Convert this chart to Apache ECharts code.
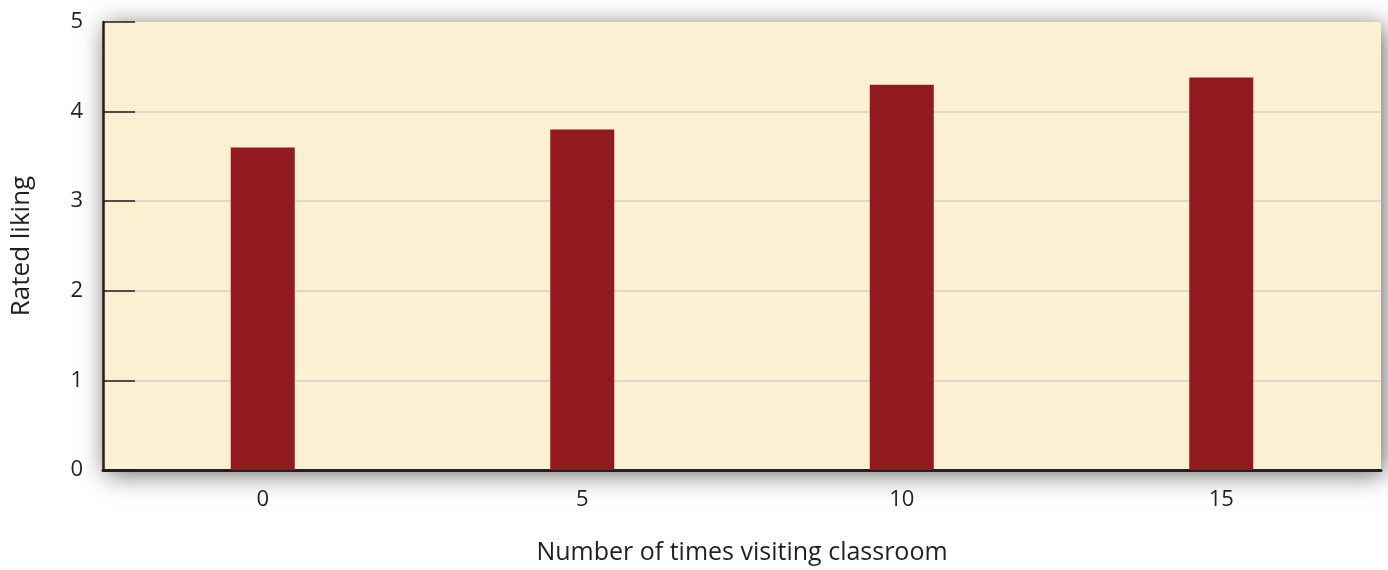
<!DOCTYPE html>
<html><head><meta charset="utf-8">
<script src="https://cdn.jsdelivr.net/npm/echarts@6/dist/echarts.min.js"></script>
<style>html,body{margin:0;padding:0;background:#fff}#c{width:1388px;height:570px}</style>
</head><body><div id="c"></div>
<script>
var categories = ['0', '5', '10', '15'];
var ratedLiking = [3.6, 3.8, 4.3, 4.38];
var yTicks = [0, 1, 2, 3, 4, 5];
var xTitle = 'Number of times visiting classroom';
var yTitle = 'Rated liking';

var font = 'Open Sans';
var chart = echarts.init(document.getElementById('c'));
chart.setOption({
  animation: false,
  grid: {
    left: 103, right: 7, top: 22, bottom: 99,
    show: true, backgroundColor: '#FDEFD1', borderWidth: 0,
    shadowBlur: 24, shadowColor: 'rgba(0,0,0,0.6)', shadowOffsetX: 3, shadowOffsetY: 4
  },
  xAxis: {
    type: 'category', data: categories,
    axisLine: { lineStyle: { color: '#231F20', width: 3 } },
    axisTick: { show: false },
    axisLabel: { color: '#231F20', fontFamily: font, fontSize: 22, margin: 19 },
    name: xTitle, nameLocation: 'middle', nameGap: 70,
    nameTextStyle: { color: '#231F20', fontFamily: font, fontSize: 25 }
  },
  yAxis: {
    type: 'value', min: yTicks[0], max: yTicks[yTicks.length - 1], interval: 1,
    axisLine: { show: true, lineStyle: { color: '#231F20', width: 2.5 } },
    axisTick: { show: true, inside: true, length: 32, lineStyle: { color: '#231F20', width: 1.5 } },
    axisLabel: { color: '#231F20', fontFamily: font, fontSize: 22, margin: 20 },
    splitLine: { show: true, lineStyle: { color: ['transparent', '#D3D0CB', '#D3D0CB', '#D3D0CB', '#D3D0CB', 'transparent'], width: 1.5 } },
    name: yTitle, nameLocation: 'middle', nameGap: 68,
    nameTextStyle: { color: '#231F20', fontFamily: font, fontSize: 26 }
  },
  series: [{
    type: 'bar', data: ratedLiking, barWidth: 64,
    itemStyle: { color: '#921A1E' }
  }]
});
</script></body></html>
